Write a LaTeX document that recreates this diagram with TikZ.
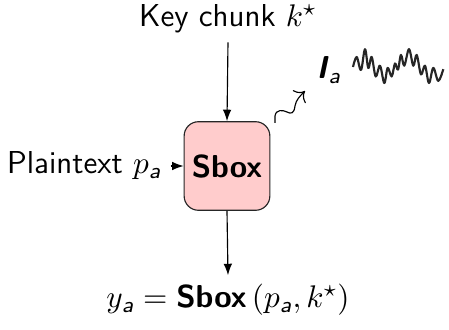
\documentclass[tikz,border=0pt]{standalone}
\usepackage{amsmath}
\usetikzlibrary{arrows.meta,positioning}
\definecolor{sboxfill}{RGB}{255,204,204}

\begin{document}
\begin{tikzpicture}[x=0.35pt, y=-0.35pt, font=\sffamily\fontsize{11.1}{13.5}\selectfont,
  >={Latex[length=4pt,width=3pt]},
  sboxnode/.style={draw=black!85, rounded corners=5pt, fill=sboxfill,
              minimum width=30pt, minimum height=31pt, inner sep=2pt,
              font=\sffamily\bfseries\fontsize{11.1}{13.5}\selectfont},
  lbl/.style={inner sep=3pt}]
\useasboundingbox (0,0) rectangle (449,330);

% --- the sbox and its inputs / output ---
\node[sboxnode] (sbox) at (227,166) {Sbox};
\node[lbl] (key) at (228,19) {Key chunk $k^\star$};
\node[lbl, left=4.5pt of sbox] (plain) {Plaintext $p_{\textit{a}}$};
\node[lbl] (out) at (228,300) {$y_{\textit{a}} = \textbf{Sbox}\,(p_{\textit{a}}, k^\star)$};

\draw[->] (key.south) -- (sbox.north);
\draw[->] (plain.east) -- (sbox.west);
\draw[->] (sbox.south) -- (out.north);

% --- leakage ---
\node[lbl] (leak) at (329,70) {\textbf{\textit{I}}$_{\textit{a}}$};
\coordinate (leakfrom) at (275,123);
\coordinate (leakto) at (305,91);
\draw[-{To[length=3pt]}, thin] (leakfrom) -- (275,116)
  .. controls (276,109) and (283,110) .. (287,112)
  .. controls (291,114) and (294,114) .. (295,106)
  .. controls (296,100) and (300,96) .. (leakto);

% --- trace ---
\draw[black!85, line width=0.75pt, line join=round, yshift=-67*0.35pt, yscale=1.3]
  plot[smooth, tension=0.6] coordinates {(353,0) (356.7,-7.7) (361,2.3) (365,-13.7)
    (368.3,0.7) (371.7,-7.7) (375.7,7.3) (380,-1) (384.3,12.3) (387.7,0.7)
    (391.7,7.3) (395,-2.7) (398,2) (401,-9.3) (404.3,-1) (409,-13.7) (413.3,-1)
    (416.7,-9.3) (421,5.7) (425,-1) (429,12.3) (433.3,0.7) (438.3,10.7) (443.3,1.7)};
\end{tikzpicture}
\end{document}
